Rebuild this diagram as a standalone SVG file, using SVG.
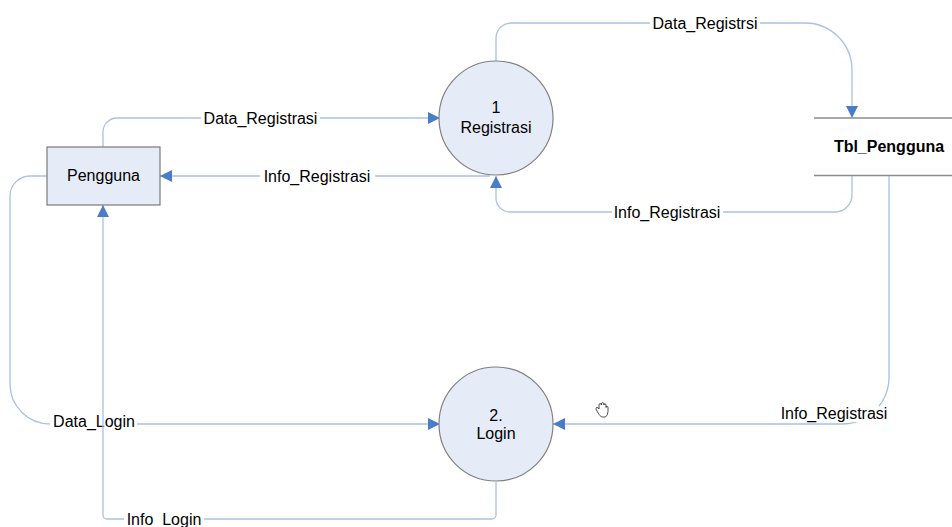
<svg xmlns="http://www.w3.org/2000/svg" width="952" height="527" viewBox="0 0 952 527">
<defs>
<style>
.bg{fill:#fff}
.conn{fill:none;stroke:#a9c1e4;stroke-width:1.3;marker-end:url(#arr)}
.nl{fill:none;stroke:#a9c1e4;stroke-width:1.3}
.proc{fill:#e6ecf7;stroke:#808080;stroke-width:1.2}
.ent{fill:#e6ecf7;stroke:#7a7a7a;stroke-width:1.2}
.store{stroke:#8c8c8c;stroke-width:1.3}
text{font-family:"Liberation Sans",Arial,sans-serif;font-size:16px;fill:#000}
.c{text-anchor:middle}
.b{font-weight:bold}
.lbg{fill:#fff}
</style>
<marker id="arr" markerUnits="userSpaceOnUse" markerWidth="13" markerHeight="12" refX="12" refY="6" orient="auto">
<path d="M0,0 L12,6 L0,12 z" fill="#4a7dc8"/>
</marker>
</defs>
<rect class="bg" width="952" height="527"/>

<g id="connectors">
<path class="conn" d="M103 147 V132 A14 14 0 0 1 117 118 H440"/>
<path class="conn" d="M490 176 H160"/>
<path class="conn" d="M496 61 V38 A15 15 0 0 1 511 23 H805 A47 47 0 0 1 852 70 V118"/>
<path class="conn" d="M852 176 V195 A17 17 0 0 1 835 212 H510 A14 14 0 0 1 496 198 V176"/>
<path class="conn" d="M889 176 V377 A47 47 0 0 1 842 424 H553"/>
<path class="conn" d="M47 176 H30 A20 20 0 0 0 10 196 V384 A40 40 0 0 0 50 424 H440"/>
<path class="conn" d="M496 482 V515 A4 4 0 0 1 492 519 H107 A4 4 0 0 1 103 515 V205"/>

<rect class="lbg" x="201" y="110" width="119" height="17"/>
<text class="c" x="260.5" y="124">Data_Registrasi</text>
<rect class="lbg" x="260" y="168" width="115" height="17"/>
<text class="c" x="317" y="182">Info_Registrasi</text>
<rect class="lbg" x="650" y="15" width="110" height="17"/>
<text class="c" x="705" y="29">Data_Registrsi</text>
<rect class="lbg" x="612" y="204" width="111" height="17"/>
<text class="c" x="667" y="218">Info_Registrasi</text>
<rect class="lbg" x="777" y="406" width="102" height="16"/>
<text class="c" x="834" y="419">Info_Registrasi</text>
<rect class="lbg" x="50" y="413" width="87" height="17"/>
<text class="c" x="94" y="427">Data_Login</text>
<path class="nl" d="M103 430 V413"/>
<rect class="lbg" x="124" y="511" width="80" height="16"/>
<text class="c" x="164" y="525">Info_Login</text>
</g>

<g id="pengguna">
<rect class="ent" x="47" y="147" width="113" height="58"/>
<text class="c" x="103.5" y="181">Pengguna</text>
</g>

<g id="proc1">
<circle class="proc" cx="496" cy="118" r="57"/>
<text class="c" x="496" y="113">1</text>
<text class="c" x="496" y="133">Registrasi</text>
</g>

<g id="proc2">
<circle class="proc" cx="496" cy="424" r="57"/>
<text class="c" x="496" y="421">2.</text>
<text class="c" x="496" y="439">Login</text>
</g>

<g id="tbl_pengguna">
<line class="store" x1="814" y1="118" x2="952" y2="118"/>
<line class="store" x1="814" y1="175.5" x2="952" y2="175.5"/>
<text class="c b" x="889" y="152">Tbl_Pengguna</text>
</g>

<g id="cursor" fill="#fff" stroke="#222" stroke-width="0.8" stroke-linejoin="round">
<path d="M597 411 Q595 408.5 596.5 407.5 Q598 407 599 409 L599 405 Q599 403.6 600.2 403.6 Q601.4 403.6 601.4 405 L601.4 404 Q601.4 402.6 602.6 402.6 Q603.8 402.6 603.8 404 L603.8 405 Q603.8 403.8 604.9 403.8 Q606 403.8 606 405 L606 407.5 Q606 406.4 607 406.4 Q608 406.4 608 407.5 L608 411.5 Q608 415 605.5 417 L601.5 417 Q599 415 597 411 Z"/>
</g>
</svg>
